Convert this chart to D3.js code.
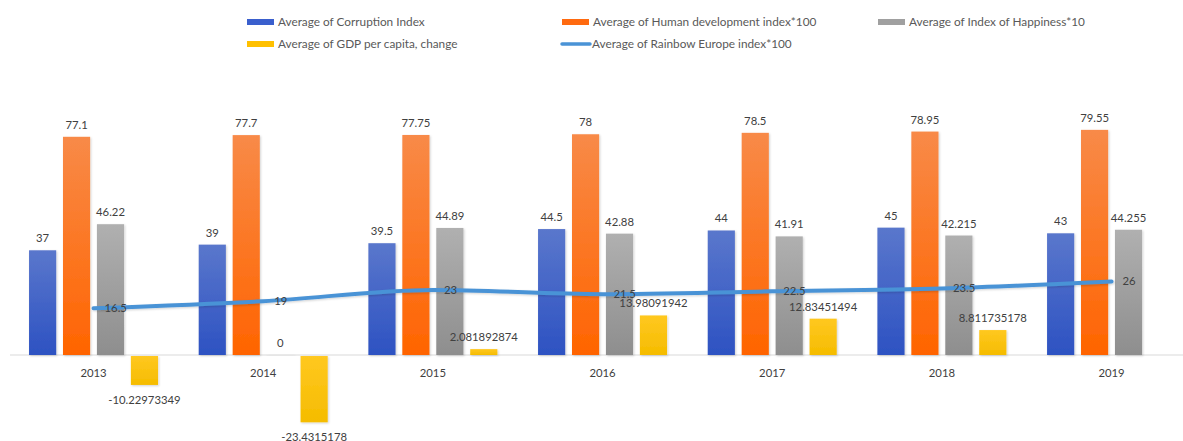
<!DOCTYPE html>
<html>
<head>
<meta charset="utf-8">
<script src="https://cdn.jsdelivr.net/npm/d3@7"></script>
<style>
  html, body { margin: 0; padding: 0; background: #ffffff; }
  svg { display: block; font-family: Lato, "Open Sans", sans-serif; }
</style>
</head>
<body>
<svg id="chart" width="1183" height="441"></svg>
<script>
// Yearly averages
const years = ["2013", "2014", "2015", "2016", "2017", "2018", "2019"];
const corruption = [37, 39, 39.5, 44.5, 44, 45, 43];
const hdi100 = [77.1, 77.7, 77.75, 78, 78.5, 78.95, 79.55];
const happiness10 = [46.22, 0, 44.89, 42.88, 41.91, 42.215, 44.255];
const gdpChange = [-10.22973349, -23.4315178, 2.081892874, 13.98091942, 12.83451494, 8.811735178, null];
const rainbow100 = [16.5, 19, 23, 21.5, 22.5, 23.5, 26];

const barSeries = [
  { name: "Average of Corruption Index", values: corruption, grad: "gBlue", swatch: "#3a5fcd" },
  { name: "Average of Human development index*100", values: hdi100, grad: "gOrange", swatch: "#ff6a10" },
  { name: "Average of Index of Happiness*10", values: happiness10, grad: "gGray", swatch: "#a0a0a0" },
  { name: "Average of GDP per capita, change", values: gdpChange, grad: "gYellow", swatch: "#ffc000" }
];
const lineName = "Average of Rainbow Europe index*100";
const lineColor = "#4a93d6";

const svg = d3.select("#chart");
const W = 1183, H = 441;
const labelSize = 11.3, legendSize = 11.8;

// gradients
const defs = svg.append("defs");
function grad(id, top, bottom) {
  const g = defs.append("linearGradient").attr("id", id)
    .attr("x1", 0).attr("y1", 0).attr("x2", 0).attr("y2", 1);
  g.append("stop").attr("offset", "0%").attr("stop-color", top);
  g.append("stop").attr("offset", "100%").attr("stop-color", bottom);
}
grad("gBlue", "#5a77cc", "#2d52c2");
grad("gOrange", "#f88a48", "#ff6400");
grad("gGray", "#b0b0b0", "#8e8e8e");
grad("gYellow", "#ffc820", "#f5bc00");
const shadow = defs.append("filter").attr("id", "shadow")
  .attr("x", "-20%").attr("y", "-20%").attr("width", "140%").attr("height", "140%");
shadow.append("feDropShadow").attr("dx", 1).attr("dy", 1).attr("stdDeviation", 1)
  .attr("flood-color", "#000").attr("flood-opacity", 0.18);

// scales
const x0 = d3.scaleBand().domain(years).range([8.7, 1196.4]).paddingInner(0).paddingOuter(0);
const inner = d3.scaleBand().domain(d3.range(barSeries.length))
  .range([x0.bandwidth() / 2 - 64.5, x0.bandwidth() / 2 + 64.5]).paddingInner(0.2).paddingOuter(0);
const y = d3.scaleLinear().domain([0, 77.1]).range([355, 136.8]);

// baseline axis
svg.append("line").attr("x1", 10).attr("x2", W).attr("y1", y(0)).attr("y2", y(0))
  .attr("stroke", "#d9d9d9").attr("stroke-width", 1);

// bars
const groups = svg.append("g").selectAll("g").data(years).join("g")
  .attr("transform", d => `translate(${x0(d)},0)`);

barSeries.forEach((s, si) => {
  groups.each(function (yr, i) {
    const v = s.values[i];
    if (v === null) return;
    const g = d3.select(this);
    const bx = inner(si), bw = inner.bandwidth();
    const top = Math.min(y(v), y(0)), h = Math.abs(y(v) - y(0));
    g.append("rect").attr("x", bx).attr("y", v < 0 ? top + 1 : top)
      .attr("width", bw).attr("height", Math.max(h, 0.8))
      .attr("fill", v === 0 ? "#e6e6e6" : `url(#${s.grad})`)
      .attr("filter", "url(#shadow)");
    g.append("text").attr("x", bx + bw / 2)
      .attr("y", v < 0 ? y(v) + 20 : y(v) - 8)
      .attr("text-anchor", "middle").attr("font-size", labelSize).attr("fill", "#404040")
      .text(String(v));
  });
});

// category labels
svg.append("g").selectAll("text").data(years).join("text")
  .attr("x", d => x0(d) + x0.bandwidth() / 2).attr("y", 377)
  .attr("text-anchor", "middle").attr("font-size", labelSize).attr("fill", "#404040")
  .text(d => d);

// rainbow index line
const cx = d => x0(d) + x0.bandwidth() / 2;
const line = d3.line().x((d, i) => cx(years[i])).y(d => y(d)).curve(d3.curveMonotoneX);
svg.append("path").datum(rainbow100).attr("d", line)
  .attr("fill", "none").attr("stroke", lineColor).attr("stroke-width", 4)
  .attr("stroke-linecap", "round").attr("filter", "url(#shadow)");
svg.append("g").selectAll("text").data(rainbow100).join("text")
  .attr("x", (d, i) => cx(years[i]) + 11).attr("y", d => y(d) + 4)
  .attr("font-size", labelSize).attr("fill", "#404040")
  .text(d => String(d));

// legend
const legendItems = [
  { s: barSeries[0], x: 247, y: 22 },
  { s: barSeries[1], x: 562, y: 22 },
  { s: barSeries[2], x: 878, y: 22 },
  { s: barSeries[3], x: 247, y: 44 },
  { s: null, x: 562, y: 44 }
];
const lg = svg.append("g");
legendItems.forEach(it => {
  if (it.s) {
    lg.append("rect").attr("x", it.x).attr("y", it.y - 3).attr("width", 27).attr("height", 6)
      .attr("fill", it.s.swatch);
    lg.append("text").attr("x", it.x + 31).attr("y", it.y + 4)
      .attr("font-size", legendSize).attr("fill", "#595959").text(it.s.name);
  } else {
    lg.append("line").attr("x1", it.x).attr("x2", it.x + 28).attr("y1", it.y).attr("y2", it.y)
      .attr("stroke", lineColor).attr("stroke-width", 3.5).attr("stroke-linecap", "round");
    lg.append("text").attr("x", it.x + 30).attr("y", it.y + 4)
      .attr("font-size", legendSize).attr("fill", "#595959").text(lineName);
  }
});
</script>
</body>
</html>
